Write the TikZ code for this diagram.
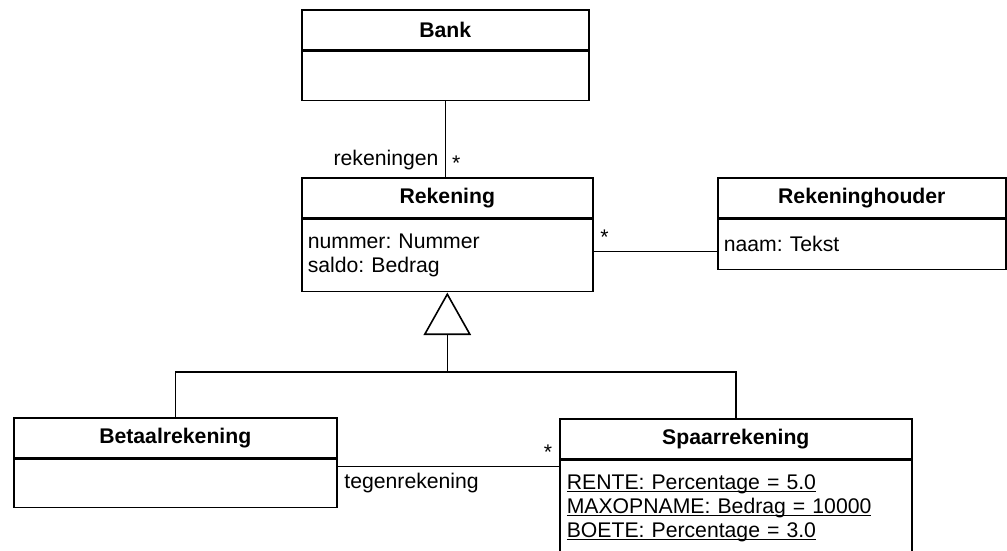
\documentclass[tikz,border=0pt]{standalone}
\usepackage{fontspec}
\setmainfont{Liberation Sans}
\usetikzlibrary{positioning,calc}
\newcommand\staticul[1]{\leavevmode\setbox0\hbox{#1}\rlap{\rule[-1.6pt]{\wd0}{0.55pt}}\box0}
\tikzset{
  clshead/.style={draw, line width=0.8pt, anchor=north west, font=\fontsize{10.6}{12}\selectfont\bfseries, inner sep=0pt, minimum height=20pt},
  clsbody/.style={draw, line width=0.8pt, font=\fontsize{10.6}{12}\selectfont\frenchspacing, align=left, inner xsep=3pt, inner ysep=0pt},
  assoc/.style={line width=0.8pt},
  lbl/.style={font=\fontsize{10.6}{12}\selectfont, inner sep=3pt},
}

\begin{document}
\begin{tikzpicture}[x=0.5pt, y=-0.5pt]
\useasboundingbox (0,0) rectangle (1007,551);
\clip (0,0) rectangle (1007,551);
% classes
\node[clshead, minimum width=143.5pt] (bankH) at (301,9) {Bank};
\node[clsbody, text width=137.5pt, minimum height=24.5pt, below=0pt of bankH] (bankB) {};
\node[clshead, minimum width=145.5pt] (rekH) at (301,177) {Rekening};
\node[clsbody, text width=139.5pt, minimum height=36pt, below=0pt of rekH] (rekB) {nummer: Nummer\\saldo: Bedrag};
\node[clshead, minimum width=144pt] (houderH) at (717,177) {Rekeninghouder};
\node[clsbody, text width=138pt, minimum height=25pt, below=0pt of houderH] (houderB) {naam: Tekst};
\node[clshead, minimum width=161.5pt] (betaalH) at (13,417) {Betaalrekening};
\node[clsbody, text width=155.5pt, minimum height=24pt, below=0pt of betaalH] (betaalB) {};
\node[clshead, minimum width=176pt] (spaarH) at (559,418) {Spaarrekening};
\node[clsbody, text width=169pt, inner xsep=3.5pt, inner ysep=7pt, text depth=40pt, below=0pt of spaarH] (spaarB)
  {\staticul{RENTE: Percentage = 5.0}\\\staticul{MAXOPNAME: Bedrag = 10000}\\\staticul{BOETE: Percentage = 3.0}};
% associations
\draw[assoc] (bankB.south) -- (bankB.south |- rekH.north)
  node[lbl, pos=1, above left] {rekeningen}
  node[lbl, pos=1, above right] {*};
\draw[assoc] ([yshift=2pt]rekB.east) -- ([yshift=2pt]rekB.east -| houderB.west)
  node[lbl, pos=0, above right] {*};
\draw[assoc] ([yshift=-4pt]betaalH.south east) -- ([yshift=-4pt]betaalH.south east -| spaarH.west)
  node[lbl, pos=0, below right] {tegenrekening}
  node[lbl, pos=1, above left] {*};
% generalisatie
\coordinate (genTop) at ([yshift=-1pt]rekB.south);
\draw[assoc] (genTop) -- ++(-22.5,40) coordinate (genL) -- ++(45,0) coordinate (genR) -- cycle;
\coordinate (genBase) at ($(genL)!0.5!(genR)$);
\coordinate (fork) at ($(genBase)+(0,38)$);
\draw[assoc] (genBase) -- (fork);
\draw[assoc] (betaalH.north) |- (fork) -| (spaarH.north);
\end{tikzpicture}
\end{document}
